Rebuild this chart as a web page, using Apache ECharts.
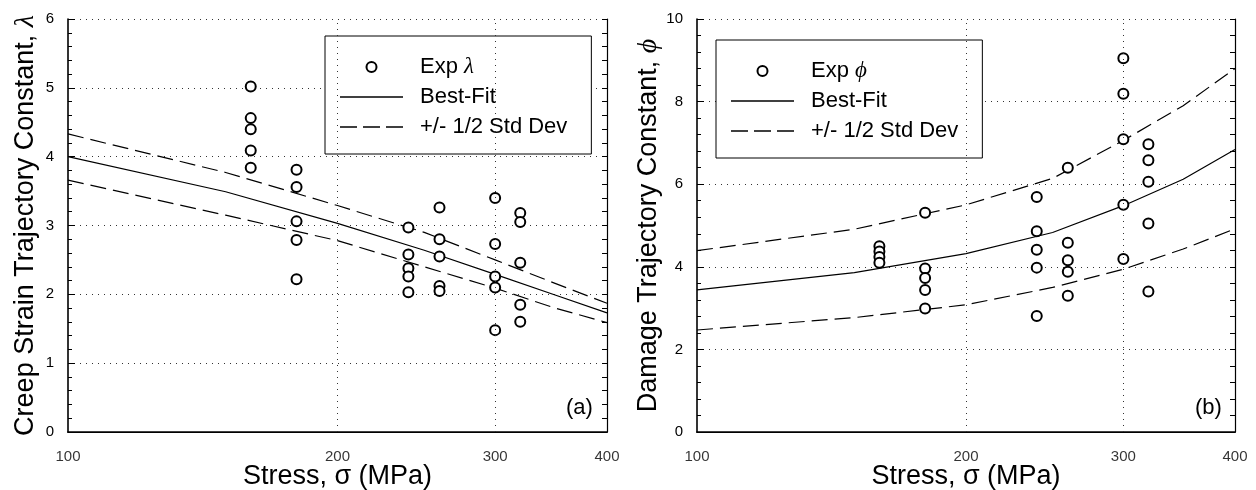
<!DOCTYPE html>
<html><head><meta charset="utf-8">
<script src="https://cdn.jsdelivr.net/npm/echarts@6/dist/echarts.min.js"></script>
<style>html,body{margin:0;padding:0;background:#fff}#c{width:1256px;height:490px}</style>
</head><body><div id="c"></div>
<script>
// ---- data ----
const stressTicks = [100, 200, 300, 400];
const stressGridLines = [200, 300];
const stressFit = [100, 150, 200, 250, 300, 350, 400];
const lambdaFit   = [4.00, 3.49, 3.03, 2.64, 2.29, 1.99, 1.73];
const lambdaUpper = [4.33, 3.77, 3.29, 2.90, 2.50, 2.16, 1.87];
const lambdaLower = [3.66, 3.15, 2.78, 2.40, 2.09, 1.80, 1.59];
const phiFit   = [3.44, 3.86, 4.32, 4.83, 5.48, 6.12, 6.84];
const phiUpper = [4.39, 4.91, 5.50, 6.14, 7.06, 7.90, 8.80];
const phiLower = [2.47, 2.77, 3.08, 3.50, 3.94, 4.43, 4.92];
const lambdaExp = [
  [160, 5.02], [160, 4.56], [160, 4.40], [160, 4.09], [160, 3.84],
  [180, 3.81], [180, 3.56], [180, 3.06], [180, 2.79], [180, 2.22],
  [240, 2.97], [240, 2.58], [240, 2.38], [240, 2.26], [240, 2.03],
  [260, 3.26], [260, 2.80], [260, 2.55], [260, 2.12], [260, 2.05],
  [300, 3.40], [300, 2.73], [300, 2.26], [300, 2.10], [300, 1.48],
  [320, 3.18], [320, 3.05], [320, 2.46], [320, 1.85], [320, 1.60]
];
const phiExp = [
  [160, 4.50], [160, 4.37], [160, 4.24], [160, 4.10],
  [180, 5.31], [180, 3.96], [180, 3.73], [180, 3.44], [180, 2.99],
  [240, 5.69], [240, 4.86], [240, 4.41], [240, 3.98], [240, 2.81],
  [260, 6.40], [260, 4.58], [260, 4.16], [260, 3.88], [260, 3.30],
  [300, 9.05], [300, 8.19], [300, 7.09], [300, 5.50], [300, 4.19],
  [320, 6.97], [320, 6.58], [320, 6.06], [320, 5.05], [320, 3.40]
];

const FONT = "'Liberation Sans', Arial, Helvetica, sans-serif";
const SERIF = "'Liberation Serif', 'Times New Roman', serif";
const DOT = { color: '#333', width: 1, type: [1, 5] };
const ICON_SOLID = 'path://M0,0 M63,10 M0,4.3 H63 V5.7 H0 Z';
const ICON_DASH = 'path://M0,0 M63,10 M0,4.3 h17 v1.4 h-17 Z M23,4.3 h17 v1.4 h-17 Z M46,4.3 h17 v1.4 h-17 Z';

function pairs(xs, ys) { return xs.map((x, i) => [x, ys[i]]); }

function xAxes(gi) {
  return [
    { type: 'log', gridIndex: gi, min: 100, max: 400, position: 'bottom',
      name: 'Stress, σ (MPa)', nameLocation: 'middle', nameGap: 31,
      nameTextStyle: { fontSize: 27, fontFamily: FONT, color: '#000' },
      axisLine: { show: true, lineStyle: { color: '#000', width: 1.6 } },
      axisTick: { show: false }, axisLabel: { show: false }, splitLine: { show: false } },
    { type: 'log', gridIndex: gi, min: 100, max: 400, position: 'top',
      axisLine: { show: true, lineStyle: { color: '#000', width: 1.2 } },
      axisTick: { show: false }, axisLabel: { show: false }, splitLine: { show: false } }
  ];
}
function yAxes(gi, max, interval, name) {
  return [
    { type: 'value', gridIndex: gi, min: 0, max: max, interval: interval, position: 'left',
      name: name, nameLocation: 'middle', nameGap: 28,
      nameTextStyle: { fontSize: 27, fontFamily: FONT, color: '#000',
        rich: { g: { fontSize: 28, fontFamily: SERIF, fontStyle: 'italic', color: '#000' } } },
      axisLine: { show: true, lineStyle: { color: '#000', width: 1.6 } },
      axisTick: { show: true, inside: true, length: 7, lineStyle: { color: '#000', width: 1 } },
      minorTick: { show: true, splitNumber: 5, length: 4, lineStyle: { color: '#000', width: 1 } },
      axisLabel: { fontSize: 15, fontFamily: FONT, color: '#000', margin: 14 },
      splitLine: { show: true, lineStyle: DOT } },
    { type: 'value', gridIndex: gi, min: 0, max: max, interval: interval, position: 'right',
      axisLine: { show: true, lineStyle: { color: '#000', width: 1.2 } },
      axisTick: { show: true, inside: true, length: 5, lineStyle: { color: '#000', width: 1 } },
      minorTick: { show: true, splitNumber: 5, length: 5, lineStyle: { color: '#000', width: 1 } },
      axisLabel: { show: false }, splitLine: { show: false } }
  ];
}
function tickSeries(xi, yi) {
  return {
    type: 'scatter', name: 'ticks' + xi, xAxisIndex: xi, yAxisIndex: yi, silent: true, clip: false, z: 1,
    symbol: 'circle', symbolSize: 0.1, itemStyle: { color: 'rgba(0,0,0,0)' },
    data: stressTicks.map(s => [s, 0]),
    label: { show: true, position: 'bottom', distance: 17, fontSize: 15, fontFamily: FONT, color: '#000',
      formatter: p => String(p.value[0]) },
    markLine: { silent: true, symbol: ['none', 'none'], label: { show: false }, lineStyle: DOT,
      emphasis: { disabled: true }, animation: false,
      data: stressGridLines.map(s => ({ xAxis: s })) }
  };
}
function lineSeries(name, xi, yi, ys, dashed) {
  return { type: 'line', name: name, xAxisIndex: xi, yAxisIndex: yi, z: 3,
    data: pairs(stressFit, ys), symbol: 'none', showSymbol: false, silent: true,
    lineStyle: { color: '#000', width: 1.2, type: dashed ? [16, 7] : 'solid' },
    itemStyle: { color: '#000' } };
}
function expSeries(name, xi, yi, data) {
  return { type: 'scatter', name: name, xAxisIndex: xi, yAxisIndex: yi, z: 4, data: data,
    symbol: 'emptyCircle', symbolSize: 10, silent: true,
    itemStyle: { color: '#000', borderColor: '#000', borderWidth: 1.2, opacity: 1 } };
}
function legendFor(left, top, names) {
  return {
    left: left, top: top, orient: 'vertical', selectedMode: false,
    data: [
      { name: names[0] },
      { name: names[1], icon: ICON_SOLID, itemStyle: { color: '#000', borderWidth: 0, opacity: 1 } },
      { name: names[2], icon: ICON_DASH, itemStyle: { color: '#000', borderWidth: 0, opacity: 1 } }
    ],
    itemWidth: 63, itemHeight: 10, itemGap: 6, symbolKeepAspect: false,
    itemStyle: { opacity: 1 },
    padding: [19, 24, 15, 15], borderColor: '#000', borderWidth: 1, backgroundColor: '#fff',
    formatter: n => n.replace(/ \([ab]\)$/, '').replace('Exp λ', 'Exp {g|λ}').replace('Exp ϕ', 'Exp {g|ϕ}'),
    textStyle: { fontSize: 22, fontFamily: FONT, color: '#000', lineHeight: 24, padding: [0, 0, 0, 12],
      rich: { g: { fontSize: 23, fontFamily: SERIF, fontStyle: 'italic', color: '#000', lineHeight: 24 } } }
  };
}

const chart = echarts.init(document.getElementById('c'), null, { renderer: 'canvas' });
chart.setOption({
  animation: false,
  backgroundColor: '#fff',
  textStyle: { fontFamily: FONT },
  grid: [
    { left: 68, top: 19, width: 539, height: 413, containLabel: false, outerBoundsMode: 'none' },
    { left: 697, top: 19, width: 538, height: 413, containLabel: false, outerBoundsMode: 'none' }
  ],
  xAxis: xAxes(0).concat(xAxes(1)),
  yAxis: yAxes(0, 6, 1, 'Creep Strain Trajectory Constant, {g|λ}')
    .concat(yAxes(1, 10, 2, 'Damage Trajectory Constant, {g|ϕ}')),
  legend: [
    legendFor(325, 36, ['Exp λ', 'Best-Fit (a)', '+/- 1/2 Std Dev (a)']),
    legendFor(716, 40, ['Exp ϕ', 'Best-Fit (b)', '+/- 1/2 Std Dev (b)'])
  ],
  graphic: [
    { type: 'text', left: 566, top: 397, style: { text: '(a)', fontSize: 22, fontFamily: FONT, fill: '#000' } },
    { type: 'text', left: 1195, top: 397, style: { text: '(b)', fontSize: 22, fontFamily: FONT, fill: '#000' } }
  ],
  series: [
    tickSeries(0, 0),
    expSeries('Exp λ', 0, 0, lambdaExp),
    lineSeries('Best-Fit (a)', 0, 0, lambdaFit, false),
    lineSeries('+/- 1/2 Std Dev (a)', 0, 0, lambdaUpper, true),
    lineSeries('lower (a)', 0, 0, lambdaLower, true),
    tickSeries(2, 2),
    expSeries('Exp ϕ', 2, 2, phiExp),
    lineSeries('Best-Fit (b)', 2, 2, phiFit, false),
    lineSeries('+/- 1/2 Std Dev (b)', 2, 2, phiUpper, true),
    lineSeries('lower (b)', 2, 2, phiLower, true)
  ]
});
</script>
</body></html>
